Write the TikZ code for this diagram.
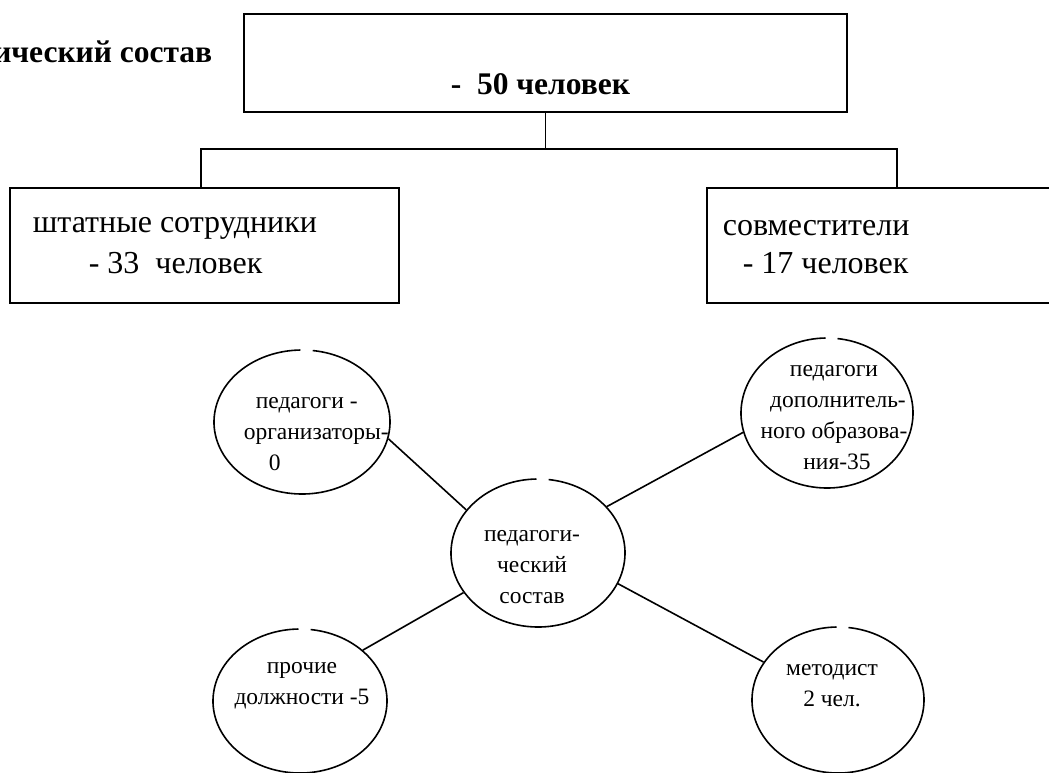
\documentclass[tikz,border=0pt]{standalone}
\usepackage{fontspec}
\setmainfont{Liberation Serif}
\usetikzlibrary{shapes.geometric}
\begin{document}
\begin{tikzpicture}[x=1pt,y=-1pt,
  line width=1.6pt,
  box/.style={draw, rectangle, inner sep=0pt},
  oval/.style={ellipse, inner sep=0pt},
  etext/.style={align=center, inner sep=0pt, font=\fontsize{23.5}{31}\selectfont},
  btext/.style={anchor=west, inner sep=0pt, font=\fontsize{32}{36}\selectfont},
  bold/.style={inner sep=0pt, font=\bfseries\fontsize{31.5}{36}\selectfont},
  link/.style={line width=1.6pt},
]
\useasboundingbox (0,0) rectangle (1049,772);
\clip (0,0) rectangle (1049,772);

% boxes
\node[box, minimum width=603pt, minimum height=98pt] (top) at (545.5,63) {};
\node[box, minimum width=389pt, minimum height=115pt] (left) at (204.5,245.5) {};
\node[box, minimum width=353pt, minimum height=115pt] (right) at (883.5,245.5) {};

\node[bold, anchor=east] (title) at (213,52) {ический состав};
\node[bold, anchor=west] (total) at (450,84) {-\ \ 50 человек};

\node[btext] (lt1) at (32,228) {штатные сотрудники};
\node[btext] (lt2) at (88,263) {- 33\ \ человек};
\node[btext] (rt1) at (722,228) {совместители};
\node[btext] (rt2) at (742,263) {- 17 человек};

% tree connectors
\coordinate (jl) at (201,149);
\coordinate (jr) at (897,149);
\draw[link] (top.south) -- (top.south |- jl);
\draw[link] (jl |- left.north) -- (jl) -- (jr) -- (jr |- right.north);

% ellipses
\node[oval, minimum width=176pt, minimum height=144pt] (A) at (302,422) {};
\node[oval, minimum width=172pt, minimum height=150pt] (B) at (827,413) {};
\node[oval, minimum width=174pt, minimum height=148pt] (C) at (538,553) {};
\node[oval, minimum width=174pt, minimum height=144pt] (D) at (300,701) {};
\node[oval, minimum width=172pt, minimum height=146pt] (E) at (838,700) {};

\draw (A.center) ++(277:88 and 72) arc[start angle=277, end angle=629, x radius=88, y radius=72];
\draw (B.center) ++(277:86 and 75) arc[start angle=277, end angle=629, x radius=86, y radius=75];
\draw (C.center) ++(277:87 and 74) arc[start angle=277, end angle=629, x radius=87, y radius=74];
\draw (D.center) ++(277:87 and 72) arc[start angle=277, end angle=629, x radius=87, y radius=72];
\draw (E.center) ++(277:86 and 73) arc[start angle=277, end angle=629, x radius=86, y radius=73];

\node[etext, align=left, anchor=west] (At) at (243,434) {\hspace{12pt}педагоги -\\организаторы-\\\hspace{25pt}0};
\node[etext] (Bt) at (834,418) {педагоги\\\hspace{8pt}дополнитель-\\ного образова-\\\hspace{6pt}ния-35};
\node[etext] (Ct) at (532,567) {педагоги-\\ческий\\состав};
\node[etext] (Dt) at (302,686) {прочие\\должности -5};
\node[etext] (Et) at (832,686) {методист\\2 чел.};

% spokes
\draw[link] (A.-11) -- (C.149);
\draw[link] (B.193) -- (C.34);
\draw[link] (D.39) -- (C.208);
\draw[link] (E.153) -- (C.-21);
\end{tikzpicture}
\end{document}
